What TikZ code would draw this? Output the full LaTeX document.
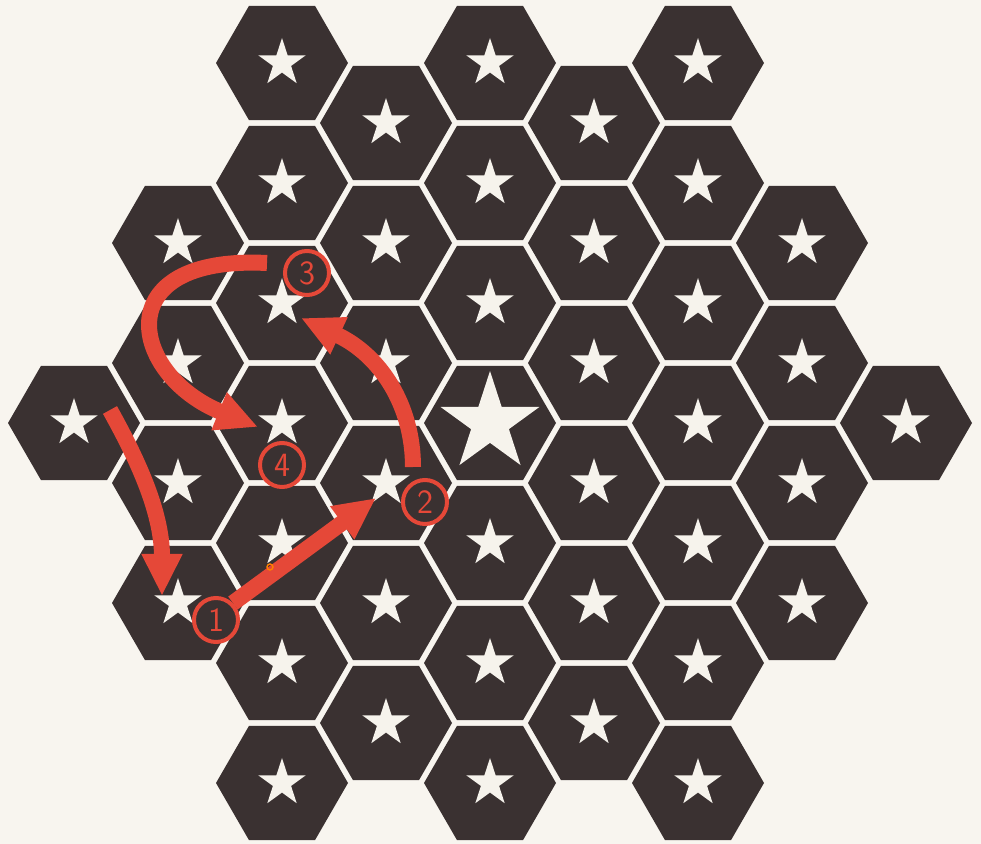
\documentclass[tikz,border=0pt]{standalone}
\usetikzlibrary{shapes.geometric,arrows.meta}
\definecolor{board}{RGB}{58,49,49}
\definecolor{paper}{RGB}{248,245,239}
\definecolor{starwhite}{RGB}{246,243,236}
\definecolor{marker}{RGB}{229,72,56}

\begin{document}
\begin{tikzpicture}[x=0.5pt,y=-0.5pt,
    hexcell/.style={regular polygon,regular polygon sides=6,minimum size=66pt,inner sep=0pt,outer sep=0pt,fill=board},
    starcell/.style={star,star points=5,star point ratio=2.618,minimum size=#1,inner sep=0pt,outer sep=0pt,fill=starwhite},
    move/.style={marker,line width=8pt,-{Triangle[width=19pt,length=21pt]}},
    stepnum/.style={circle,draw=marker,line width=2pt,fill=board,text=marker,minimum size=22pt,inner sep=0pt,font=\sffamily\fontsize{17}{17}\selectfont}]
  \fill[paper] (0,0) rectangle (981,844);
  \useasboundingbox (0,0) rectangle (981,844);

  % the board
  \foreach \c/\rows in {0/{6},1/{3,5,7,9},2/{0,2,...,12},3/{1,3,...,11},4/{0,2,...,12},5/{1,3,...,11},6/{0,2,...,12},7/{3,5,7,9},8/{6}}
    \foreach \r in \rows {
      \pgfmathsetmacro\sz{(\c==4 && \r==6) ? 52 : 25}
      \node[hexcell] (hex\c-\r) at ({74+104*\c},{63+60*\r}) {};
      \node[starcell=\sz pt] (st\c-\r) at (hex\c-\r) {};
    }

  % moves
  \coordinate (a1) at (110,410);
  \coordinate (a2) at (162,596);
  \coordinate (b2) at (376,498);
  \coordinate (c1) at (413,467);
  \coordinate (c2) at (301,318);
  \coordinate (d1) at (267,263);
  \coordinate (d2) at (258,427);

  \node[stepnum] (n1) at (216,620) {1};
  \node[stepnum] (n2) at (425,502) {2};
  \node[stepnum] (n3) at (307,273) {3};
  \node[stepnum] (n4) at (282,465) {4};

  \draw[move] (a1) .. controls (135,455) and (162,510) .. (a2);
  \draw[move] (n1.45) -- (b2);
  \draw[move] (c1) .. controls (413,405) and (380,355) .. (c2);
  \draw[move] (d1) .. controls (105,255) and (130,375) .. (d2);
  \draw[orange,line width=0.7pt] (270,567) circle (3);
\end{tikzpicture}
\end{document}
